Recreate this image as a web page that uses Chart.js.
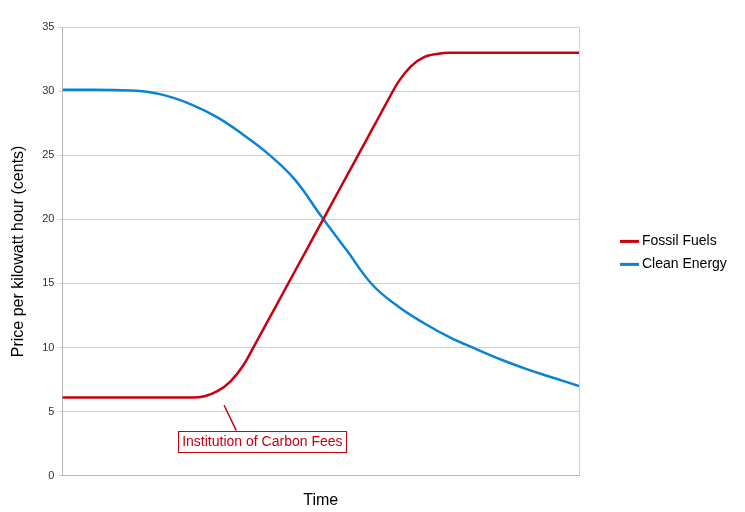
<!DOCTYPE html>
<html>
<head>
<meta charset="utf-8">
<script src="https://cdn.jsdelivr.net/npm/chart.js@4"></script>
<style>
  html, body { margin: 0; padding: 0; background: #fff; }
  #wrap { width: 745px; height: 512px; }
</style>
</head>
<body>
<div id="wrap"><canvas id="chart" width="745" height="512"></canvas></div>
<script>
// time runs 0..100 (no labels on the axis)
const fossilTime = [0, 10, 20, 25, 27.5, 30, 32.5, 35, 37.5, 40, 42.5, 45, 47.5, 50, 52.5, 55, 57.5, 60, 62.5, 65, 67.5, 70, 72.5, 75, 80, 90, 100];
const fossilPrice = [6.1, 6.1, 6.1, 6.1, 6.2, 6.6, 7.35, 8.6, 10.4, 12.25, 14.1, 15.95, 17.8, 19.65, 21.5, 23.35, 25.2, 27.05, 28.9, 30.7, 31.95, 32.65, 32.9, 33, 33, 33, 33];
const cleanTime = [0, 5, 10, 15, 20, 25, 30, 35, 40, 45, 50, 55, 60, 65, 70, 75, 80, 85, 90, 95, 100];
const cleanPrice = [30.1, 30.1, 30.08, 30, 29.65, 28.95, 27.95, 26.6, 25.05, 23.1, 20.3, 17.6, 14.9, 13.2, 11.9, 10.8, 9.9, 9.05, 8.3, 7.65, 7];
const seriesNames = ["Fossil Fuels", "Clean Energy"];
const seriesColors = ["#c9000f", "#0a84d2"];
const yTicks = [0, 5, 10, 15, 20, 25, 30, 35];
// callout: where the leader line touches the curve, and where the label sits
const noteText = "Institution of Carbon Fees";
const noteAnchor = { x: 31.3, y: 5.5 };
const noteLabel = { x: 38.7, y: 2.7 };

const FONT = "'Liberation Sans', Arial, sans-serif";
const toPoints = (xs, ys) => xs.map((x, i) => ({ x: x, y: ys[i] }));

const sideLegend = {
  id: "sideLegend",
  afterDraw(chart) {
    const ctx = chart.ctx;
    const top = (chart.chartArea.top + chart.chartArea.bottom) / 2 - 10;
    ctx.save();
    ctx.font = "14px " + FONT;
    ctx.textBaseline = "middle";
    chart.data.datasets.forEach((ds, i) => {
      const y = top + i * 23;
      ctx.strokeStyle = ds.borderColor;
      ctx.lineWidth = 3;
      ctx.beginPath();
      ctx.moveTo(620, y);
      ctx.lineTo(639, y);
      ctx.stroke();
      ctx.fillStyle = "#000";
      ctx.fillText(ds.label, 642, y);
    });
    ctx.restore();
  },
};

const callout = {
  id: "callout",
  afterDatasetsDraw(chart) {
    const ctx = chart.ctx;
    const xs = chart.scales.x, ys = chart.scales.y;
    const ax = xs.getPixelForValue(noteAnchor.x), ay = ys.getPixelForValue(noteAnchor.y);
    const cx = xs.getPixelForValue(noteLabel.x), cy = ys.getPixelForValue(noteLabel.y);
    ctx.save();
    ctx.font = "14px " + FONT;
    const w = ctx.measureText(noteText).width + 8;
    const h = 21;
    const boxTop = cy - h / 2;
    ctx.strokeStyle = seriesColors[0];
    ctx.lineWidth = 1.5;
    ctx.beginPath();
    ctx.moveTo(ax, ay);
    ctx.lineTo(ax + (boxTop - ay) * 0.48, boxTop);
    ctx.stroke();
    ctx.fillStyle = "#fff";
    ctx.fillRect(cx - w / 2, boxTop, w, h);
    ctx.lineWidth = 1;
    ctx.strokeRect(Math.round(cx - w / 2) + 0.5, Math.round(boxTop) + 0.5, Math.round(w), h);
    ctx.fillStyle = seriesColors[0];
    ctx.textAlign = "center";
    ctx.textBaseline = "middle";
    ctx.fillText(noteText, cx, cy + 1);
    ctx.restore();
  },
};

new Chart(document.querySelector("#chart"), {
  type: "line",
  data: {
    datasets: [
      {
        label: seriesNames[0],
        data: toPoints(fossilTime, fossilPrice),
        borderColor: seriesColors[0],
        backgroundColor: seriesColors[0],
        borderWidth: 2.5,
        pointRadius: 0,
        cubicInterpolationMode: "monotone",
      },
      {
        label: seriesNames[1],
        data: toPoints(cleanTime, cleanPrice),
        borderColor: seriesColors[1],
        backgroundColor: seriesColors[1],
        borderWidth: 2.5,
        pointRadius: 0,
        tension: 0.4,
      },
    ],
  },
  options: {
    responsive: false,
    animation: false,
    layout: { padding: { top: 27, right: 166, bottom: 2, left: 9 } },
    plugins: {
      legend: { display: false },
      tooltip: { enabled: false },
    },
    scales: {
      x: {
        type: "linear",
        min: 0,
        max: 100,
        ticks: { display: false, stepSize: 100 },
        grid: { color: "#d0d0d0", drawTicks: false },
        border: { color: "#b8b8b8" },
        title: {
          display: true,
          text: "Time",
          color: "#000",
          font: { family: FONT, size: 16 },
          padding: { top: 15, bottom: 0 },
        },
      },
      y: {
        min: 0,
        max: 35,
        afterBuildTicks: (axis) => {
          axis.ticks = yTicks.map((v) => ({ value: v }));
        },
        ticks: {
          color: "#333",
          font: { family: FONT, size: 11 },
          padding: 4,
        },
        grid: { color: "#d0d0d0", tickLength: 4 },
        border: { color: "#b8b8b8" },
        title: {
          display: true,
          text: "Price per kilowatt hour (cents)",
          color: "#000",
          font: { family: FONT, size: 16 },
          padding: { top: 0, bottom: 10 },
        },
      },
    },
  },
  plugins: [callout, sideLegend],
});
</script>
</body>
</html>
